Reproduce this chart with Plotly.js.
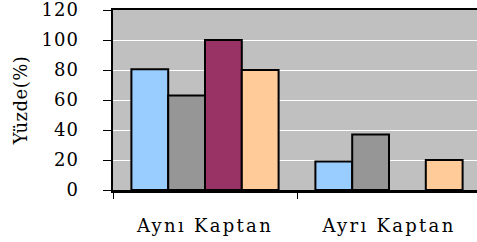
<!DOCTYPE html>
<html>
<head>
<meta charset="utf-8">
<script src="https://cdn.plot.ly/plotly-3.0.1.min.js"></script>
<style>
  html, body { margin: 0; padding: 0; overflow: hidden; background: #fff; }
  #chart { width: 484px; height: 242px; }
  .xtick text { letter-spacing: 2.3px; }
  .ytick text { letter-spacing: 1px; }
  .g-ytitle text { letter-spacing: 0.5px; }
</style>
</head>
<body>
<div id="chart"></div>
<script>
const categories = ["Aynı Kaptan", "Ayrı Kaptan"];
const series1 = [80.5, 19];
const series2 = [63, 37];
const series3 = [100, 0];
const series4 = [80, 20];
const seriesValues = [series1, series2, series3, series4];
const seriesColors = ["#99CCFF", "#969696", "#993366", "#FFCC99"];
const yTickValues = [0, 20, 40, 60, 80, 100, 120];

const FONT = "DejaVu Serif";

const traces = seriesValues.map((vals, i) => ({
  type: "bar",
  x: categories,
  y: vals,
  marker: {
    color: seriesColors[i],
    line: { color: "#000", width: vals.map(v => (v > 0 ? 2 : 0)) }
  },
  hoverinfo: "none"
}));

const layout = {
  width: 484,
  height: 242,
  margin: { l: 113, r: 3, t: 10, b: 52 },
  paper_bgcolor: "#FFFFFF",
  plot_bgcolor: "#C0C0C0",
  showlegend: false,
  barmode: "group",
  bargap: 0.2,
  bargroupgap: 0,
  font: { family: FONT, size: 18, color: "#000" },
  xaxis: {
    type: "category",
    showline: true, linecolor: "#000", linewidth: 2.5, mirror: true,
    ticks: "outside", tickson: "boundaries", ticklen: 6, tickcolor: "#000", tickwidth: 1,
    showgrid: false, zeroline: false,
    tickfont: { family: FONT, size: 18, color: "#000" },
    ticklabelstandoff: 18
  },
  yaxis: {
    range: [0, 120],
    tickvals: yTickValues,
    ticktext: yTickValues.map(String),
    showline: true, linecolor: "#000", linewidth: 2.5, mirror: true,
    ticks: "outside", ticklen: 8, tickcolor: "#000", tickwidth: 1,
    showgrid: true, gridcolor: "#FFFFFF", gridwidth: 1,
    zeroline: false,
    tickfont: { family: FONT, size: 18, color: "#000" },
    ticklabeloverflow: "allow",
    ticklabelstandoff: 20,
    title: { text: "Yüzde(%)", font: { family: FONT, size: 18, color: "#000" }, standoff: 9 }
  }
};

Plotly.newPlot("chart", traces, layout, { staticPlot: true, displayModeBar: false });
</script>
</body>
</html>
